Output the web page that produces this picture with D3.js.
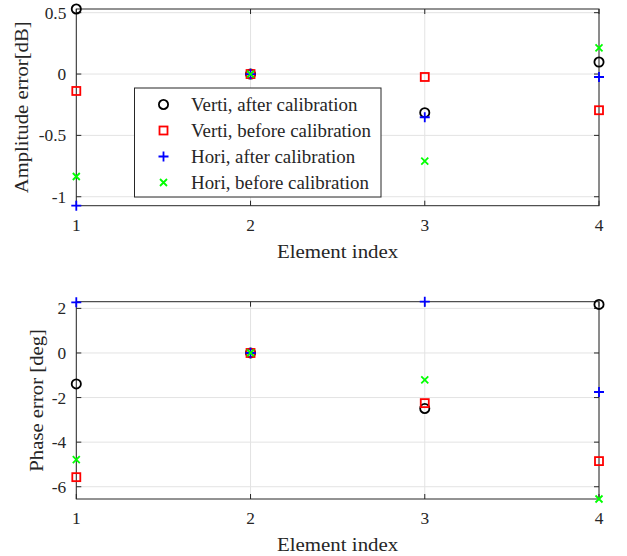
<!DOCTYPE html>
<html>
<head>
<meta charset="utf-8">
<script src="https://cdn.jsdelivr.net/npm/d3@7"></script>
<style>
  body { margin: 0; background: white; }
  text { font-family: "Liberation Serif", "Times New Roman", serif; fill: #262626; }
</style>
</head>
<body>
<script>
const elementIndex = [1, 2, 3, 4]
const seriesNames = [
  "Verti, after calibration",
  "Verti, before calibration",
  "Hori, after calibration",
  "Hori, before calibration"
]
// amplitude error [dB]
const ampVertiAfter = [0.53, 0, -0.315, 0.098]
const ampVertiBefore = [-0.138, 0, -0.024, -0.295]
const ampHoriAfter = [-1.073, 0, -0.352, -0.024]
const ampHoriBefore = [-0.835, 0, -0.71, 0.214]
// phase error [deg]
const phaseVertiAfter = [-1.39, 0, -2.49, 2.18]
const phaseVertiBefore = [-5.57, 0, -2.25, -4.85]
const phaseHoriAfter = [2.27, 0, 2.30, -1.75]
const phaseHoriBefore = [-4.78, 0, -1.21, -6.55]

const ampTicks = [-1, -0.5, 0, 0.5]
const phaseTicks = [-6, -4, -2, 0, 2]
const ampTickLabels = ["-1", "-0.5", "0", "0.5"]
const phaseTickLabels = ["-6", "-4", "-2", "0", "2"]

const params = {
  width: 627,
  height: 556,
  left: 76.3,
  right: 599,
  tickFont: 17,
  labelFont: 19,
  legendFont: 18,
  axisColor: "#262626",
  gridColor: "#e3e3e3"
}

const markerStyle = [
  { type: "circle", color: "#000000" },
  { type: "square", color: "#ff0000" },
  { type: "plus", color: "#0000ff" },
  { type: "cross", color: "#00ff00" }
]

const svg = d3.select("body").append("svg")
    .attr("width", params.width)
    .attr("height", params.height)

// the reference glyphs are a bit wider than Liberation Serif, stretch them
const widen = (sel, k) => {
  sel.each(function () {
    const w = this.getComputedTextLength()
    d3.select(this).attr("textLength", w * k).attr("lengthAdjust", "spacingAndGlyphs")
  })
}

const drawMarker = (g, type, color, x, y) => {
  const m = g.append("g").attr("transform", `translate(${x},${y})`)
      .style("fill", "none").style("stroke", color).style("stroke-width", 1.8)
  if (type === "circle") {
    m.append("circle").attr("r", 4.6)
  } else if (type === "square") {
    m.append("rect").attr("x", -4).attr("y", -4).attr("width", 8).attr("height", 8)
  } else if (type === "plus") {
    m.append("path").attr("d", "M-5,0H5M0,-5V5")
  } else {
    m.append("path").attr("d", "M-3.5,-3.5L3.5,3.5M-3.5,3.5L3.5,-3.5")
  }
}

const drawPanel = (opts) => {
  const { top, bottom, series, ticks, tickLabels, yLabel, yLabelX } = opts
  const all = series.flat()
  const x = d3.scaleLinear().domain(d3.extent(elementIndex)).range([params.left, params.right])
  const y = d3.scaleLinear().domain(d3.extent(all)).range([bottom, top])
  const g = svg.append("g")

  // grid
  g.selectAll(".gx").data(elementIndex).enter().append("line")
      .attr("x1", d => x(d)).attr("x2", d => x(d))
      .attr("y1", top).attr("y2", bottom)
      .style("stroke", params.gridColor).style("stroke-width", 1)
  g.selectAll(".gy").data(ticks).enter().append("line")
      .attr("x1", params.left).attr("x2", params.right)
      .attr("y1", d => y(d)).attr("y2", d => y(d))
      .style("stroke", params.gridColor).style("stroke-width", 1)

  // axes (box with inward ticks)
  const axisG = g.append("g").style("stroke", params.axisColor).style("stroke-width", 1).style("fill", "none")
  axisG.append("rect")
      .attr("x", params.left).attr("y", top)
      .attr("width", params.right - params.left).attr("height", bottom - top)
  elementIndex.forEach(d => {
    axisG.append("line").attr("x1", x(d)).attr("x2", x(d)).attr("y1", bottom).attr("y2", bottom - 5)
    axisG.append("line").attr("x1", x(d)).attr("x2", x(d)).attr("y1", top).attr("y2", top + 5)
  })
  ticks.forEach(d => {
    axisG.append("line").attr("x1", params.left).attr("x2", params.left + 5).attr("y1", y(d)).attr("y2", y(d))
    axisG.append("line").attr("x1", params.right).attr("x2", params.right - 5).attr("y1", y(d)).attr("y2", y(d))
  })

  // tick labels
  g.selectAll(".xl").data(elementIndex).enter().append("text")
      .attr("x", d => x(d)).attr("y", bottom + 25)
      .attr("text-anchor", "middle")
      .attr("font-size", params.tickFont)
      .text(d => d)
      .call(widen, 1.02)
  g.selectAll(".yl").data(ticks).enter().append("text")
      .attr("x", params.left - 10).attr("y", d => y(d))
      .attr("dy", "0.35em")
      .attr("text-anchor", "end")
      .attr("font-size", params.tickFont)
      .text((d, i) => tickLabels[i])
      .call(widen, 1.02)

  // axis titles
  g.append("text")
      .attr("x", (params.left + params.right) / 2).attr("y", bottom + 52)
      .attr("text-anchor", "middle")
      .attr("font-size", params.labelFont)
      .text("Element index")
      .call(widen, 1.1)
  g.append("text")
      .attr("transform", `translate(${yLabelX},${(top + bottom) / 2}) rotate(-90)`)
      .attr("text-anchor", "middle")
      .attr("font-size", params.labelFont)
      .text(yLabel)
      .call(widen, 1.09)

  // markers
  series.forEach((values, s) => {
    values.forEach((v, i) => {
      drawMarker(g, markerStyle[s].type, markerStyle[s].color, x(elementIndex[i]), y(v))
    })
  })
  return g
}

drawPanel({
  top: 9, bottom: 205.7,
  series: [ampVertiAfter, ampVertiBefore, ampHoriAfter, ampHoriBefore],
  ticks: ampTicks, tickLabels: ampTickLabels,
  yLabel: "Amplitude error[dB]", yLabelX: 28
})

drawPanel({
  top: 301.7, bottom: 499,
  series: [phaseVertiAfter, phaseVertiBefore, phaseHoriAfter, phaseHoriBefore],
  ticks: phaseTicks, tickLabels: phaseTickLabels,
  yLabel: "Phase error [deg]", yLabelX: 43
})

// legend
const legend = svg.append("g").attr("transform", "translate(134.5,88)")
legend.append("rect")
    .attr("width", 246.5).attr("height", 109)
    .style("fill", "white").style("stroke", params.axisColor).style("stroke-width", 1)
seriesNames.forEach((name, i) => {
  const ly = 16.5 + i * 26
  drawMarker(legend, markerStyle[i].type, markerStyle[i].color, 29, ly)
  legend.append("text")
      .attr("x", 56.5).attr("y", ly + 6)
      .attr("font-size", params.legendFont)
      .text(name)
      .call(widen, 1.05)
})
</script>
</body>
</html>
